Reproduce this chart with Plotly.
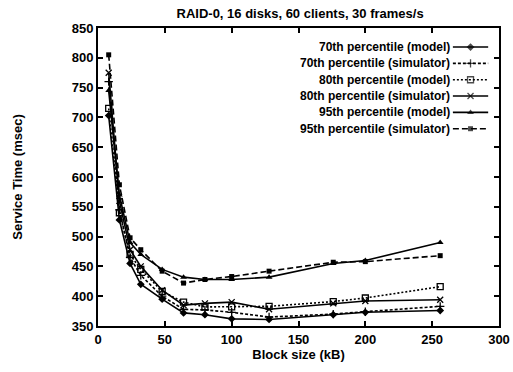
import plotly.graph_objects as go

# Block sizes (kB) and service-time percentiles (msec)
block_kb = [8, 16, 24, 32, 48, 64, 80, 100, 128, 176, 200, 256]
p70_model = [703, 528, 455, 420, 395, 372, 369, 362, 361, 369, 373, 376]
p70_sim = [760, 545, 465, 435, 400, 378, 377, 373, 365, 370, 374, 383]
p80_model = [715, 540, 470, 445, 408, 390, 382, 382, 383, 391, 397, 416]
p80_sim = [775, 560, 478, 450, 410, 385, 388, 390, 378, 388, 392, 394]
p95_model = [745, 570, 490, 470, 445, 432, 428, 428, 432, 455, 460, 490]
p95_sim = [805, 587, 498, 478, 442, 422, 428, 433, 442, 457, 458, 468]

x_ticks = [0, 50, 100, 150, 200, 250, 300]
y_ticks = [350, 400, 450, 500, 550, 600, 650, 700, 750, 800, 850]

FONT = "Liberation Sans, Arial, Helvetica, sans-serif"

series = [
    ("70th percentile (model)", p70_model, "solid", "diamond", 6, False),
    ("70th percentile (simulator)", p70_sim, "3px,2px", "cross-thin-open", 6, True),
    ("80th percentile (model)", p80_model, "2px,2px", "square-open", 6, True),
    ("80th percentile (simulator)", p80_sim, "solid", "x-thin-open", 6, True),
    ("95th percentile (model)", p95_model, "solid", "triangle-up", 6, False),
    ("95th percentile (simulator)", p95_sim, "6px,3px", "square", 5, False),
]

fig = go.Figure()

for name, vals, dash, sym, size, open_sym in series:
    fig.add_trace(go.Scatter(
        x=block_kb, y=vals, mode="lines+markers", name=name,
        line=dict(color="black", width=1.6, dash=dash),
        marker=dict(symbol=sym, size=size, color="black",
                    line=dict(color="black", width=1.3 if open_sym else 0)),
        showlegend=False,
    ))

# Key in the upper right: right-aligned labels with line samples after them
row_top = 0.936
row_step = 0.0548
sample_x = [0.885, 0.929, 0.973]
for i, (name, vals, dash, sym, size, open_sym) in enumerate(series):
    yk = row_top - i * row_step
    fig.add_trace(go.Scatter(
        x=sample_x, y=[yk] * 3, xaxis="x2", yaxis="y2",
        mode="lines+markers", showlegend=False, hoverinfo="skip",
        line=dict(color="black", width=1.6, dash=dash),
        marker=dict(symbol=sym, size=[0, size, 0], color="black",
                    line=dict(color="black", width=1.3 if open_sym else 0)),
    ))
    fig.add_annotation(
        x=0.882, y=yk, xref="paper", yref="paper", text=name,
        showarrow=False, xanchor="right", yanchor="middle",
        font=dict(family=FONT, size=12, color="black", weight="bold"),
    )

axis_common = dict(
    showline=True, linecolor="black", linewidth=2, mirror="allticks",
    ticks="inside", ticklen=5, tickwidth=1.5, tickcolor="black",
    showgrid=False, zeroline=False, automargin=False,
    tickfont=dict(family=FONT, size=13, color="black", weight="bold"),
)

fig.update_layout(
    width=513, height=372,
    margin=dict(l=98, r=14, t=28, b=46),
    paper_bgcolor="white", plot_bgcolor="white",
    title=dict(text="RAID-0, 16 disks, 60 clients, 30 frames/s",
               x=0.585, xanchor="center", y=0.965, yanchor="middle",
               font=dict(family=FONT, size=13, color="black", weight="bold")),
    xaxis=dict(range=[0, 300], tickvals=x_ticks, **axis_common,
               title=dict(text="Block size (kB)", standoff=2,
                          font=dict(family=FONT, size=13, color="black", weight="bold"))),
    yaxis=dict(range=[350, 850], tickvals=y_ticks, **axis_common,
               title=dict(text="Service Time (msec)", standoff=46,
                          font=dict(family=FONT, size=13, color="black", weight="bold"))),
    xaxis2=dict(range=[0, 1], overlaying="x", visible=False, fixedrange=True),
    yaxis2=dict(range=[0, 1], overlaying="y", visible=False, fixedrange=True),
)

fig.write_html("out.html")
